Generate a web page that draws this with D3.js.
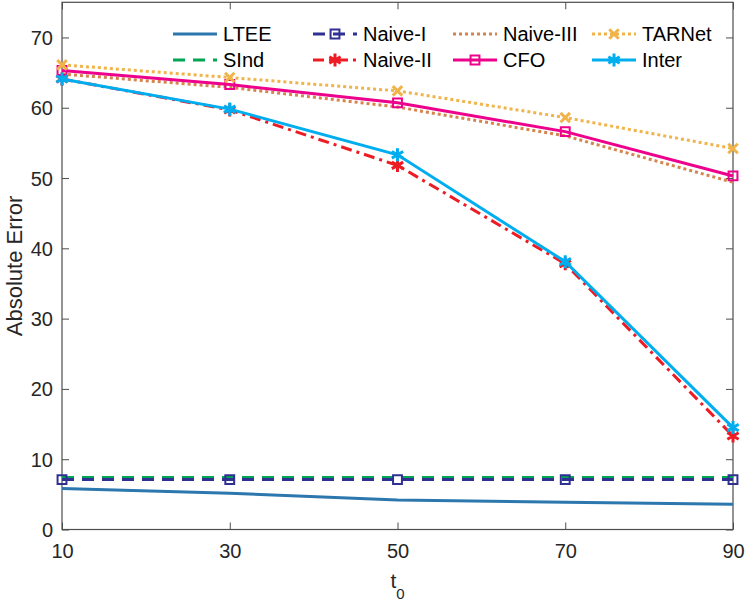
<!DOCTYPE html>
<html>
<head>
<meta charset="utf-8">
<script src="https://cdn.jsdelivr.net/npm/d3@7"></script>
<style>
  body { margin: 0; background: #fff; }
  svg { font-family: "Liberation Sans", Arial, sans-serif; }
</style>
</head>
<body>
<svg id="chart" width="747" height="602"></svg>
<script>
// values
const t0 = [10, 30, 50, 70, 90]
const xTicks = [10, 30, 50, 70, 90]
const yTicks = [0, 10, 20, 30, 40, 50, 60, 70]

const ltee = [5.85, 5.15, 4.2, 3.87, 3.6]
const sind = [7.4, 7.4, 7.4, 7.4, 7.4]
const naive1 = [7.1, 7.1, 7.1, 7.1, 7.1]
const naive2 = [64.1, 59.7, 51.8, 37.8, 13.3]
const naive3 = [64.8, 62.9, 60.1, 56.0, 49.4]
const cfo = [65.3, 63.3, 60.7, 56.6, 50.3]
const tarnet = [66.1, 64.3, 62.4, 58.6, 54.2]
const inter = [64.1, 59.8, 53.3, 38.1, 14.5]

const series = [
    {name: "LTEE", values: ltee, color: "#2b77ae", dash: null, marker: null},
    {name: "SInd", values: sind, color: "#00a651", dash: "12 8", marker: null},
    {name: "Naive-I", values: naive1, color: "#2e3192", dash: "12 8", marker: "square"},
    {name: "Naive-II", values: naive2, color: "#ed1c24", dash: "11 5 3 5", marker: "asterisk"},
    {name: "Naive-III", values: naive3, color: "#d4844c", dash: "3 3", marker: null},
    {name: "CFO", values: cfo, color: "#ec008c", dash: null, marker: "square"},
    {name: "TARNet", values: tarnet, color: "#f0b44a", dash: "3 3", marker: "times"},
    {name: "Inter", values: inter, color: "#00aeef", dash: null, marker: "asterisk"}
]

const svg = d3.select("#chart")
const mLeft = 62, mRight = 733, mTop = 2.3, mBottom = 529.5

const x = d3.scaleLinear().domain([10, 90]).range([mLeft, mRight])
const y = d3.scaleLinear().domain([0, 75]).range([mBottom, mTop])

const axisColor = "#4d4d4d"
const tickLen = 7

// axes (box with inward ticks on all sides)
const xAxis = svg.append("g").attr("transform", `translate(0,${mBottom})`)
    .call(d3.axisBottom(x).tickValues(xTicks).tickSizeInner(-tickLen).tickSizeOuter(0).tickPadding(14))
const xAxisTop = svg.append("g").attr("transform", `translate(0,${mTop})`)
    .call(d3.axisTop(x).tickValues(xTicks).tickSizeInner(-tickLen).tickSizeOuter(0).tickFormat(""))
const yAxis = svg.append("g").attr("transform", `translate(${mLeft},0)`)
    .call(d3.axisLeft(y).tickValues(yTicks).tickSizeInner(-tickLen).tickSizeOuter(0).tickPadding(9))
const yAxisRight = svg.append("g").attr("transform", `translate(${mRight},0)`)
    .call(d3.axisRight(y).tickValues(yTicks).tickSizeInner(-tickLen).tickSizeOuter(0).tickFormat(""))

for (const g of [xAxis, xAxisTop, yAxis, yAxisRight]) {
    g.select(".domain").remove()
    g.selectAll(".tick line").attr("stroke", axisColor)
    g.selectAll(".tick text").attr("fill", "#262626").style("font-size", "20px")
        .style("font-family", "'Liberation Sans', Arial, sans-serif")
}
yAxis.selectAll(".tick text").attr("dy", "0.35em")

svg.append("rect")
    .attr("x", mLeft).attr("y", mTop)
    .attr("width", mRight - mLeft).attr("height", mBottom - mTop)
    .attr("fill", "none").attr("stroke", axisColor).attr("stroke-width", 1.2)

// axis labels
svg.append("text")
    .attr("transform", `translate(22,${(mTop + mBottom) / 2}) rotate(-90)`)
    .attr("text-anchor", "middle")
    .attr("fill", "#262626")
    .style("font-size", "22px")
    .text("Absolute Error")

const xl = svg.append("text")
    .attr("x", (mLeft + mRight) / 2).attr("y", 588)
    .attr("text-anchor", "middle")
    .attr("fill", "#262626")
    .style("font-size", "21px")
xl.append("tspan").text("t")
xl.append("tspan").attr("dy", 11).style("font-size", "15px").text("0")

// markers
const symbolType = {square: d3.symbolSquare2, asterisk: d3.symbolAsterisk, times: d3.symbolTimes}
const symbolSize = {square: 100, asterisk: 120, times: 60}

function drawMarker(g, s, px, py) {
    g.append("path")
        .attr("transform", `translate(${px},${py})`)
        .attr("d", d3.symbol(symbolType[s.marker], symbolSize[s.marker])())
        .attr("fill", "none")
        .attr("stroke", s.color)
        .attr("stroke-width", s.marker === "square" ? 2 : 3)
}

const line = d3.line().x((d, i) => x(t0[i])).y(d => y(d))

const plot = svg.append("g")
for (const s of series) {
    plot.append("path")
        .datum(s.values)
        .attr("d", line)
        .attr("fill", "none")
        .attr("stroke", s.color)
        .attr("stroke-width", 3)
        .attr("stroke-dasharray", s.dash)
    if (s.marker) {
        s.values.forEach((v, i) => drawMarker(plot, s, x(t0[i]), y(v)))
    }
}

// legend, 4 columns filled column-first
const legend = svg.append("g")
const colX = [173, 313, 453, 592]
const rowY = [34, 60]
series.forEach((s, i) => {
    const cx = colX[Math.floor(i / 2)], cy = rowY[i % 2]
    legend.append("line")
        .attr("x1", cx).attr("x2", cx + 44)
        .attr("y1", cy).attr("y2", cy)
        .attr("stroke", s.color)
        .attr("stroke-width", 3)
        .attr("stroke-dasharray", s.dash)
    if (s.marker) drawMarker(legend, s, cx + 22, cy)
    legend.append("text")
        .attr("x", cx + 50).attr("y", cy)
        .attr("dy", "0.35em")
        .attr("fill", "#000")
        .style("font-size", "20px")
        .text(s.name)
})
</script>
</body>
</html>
